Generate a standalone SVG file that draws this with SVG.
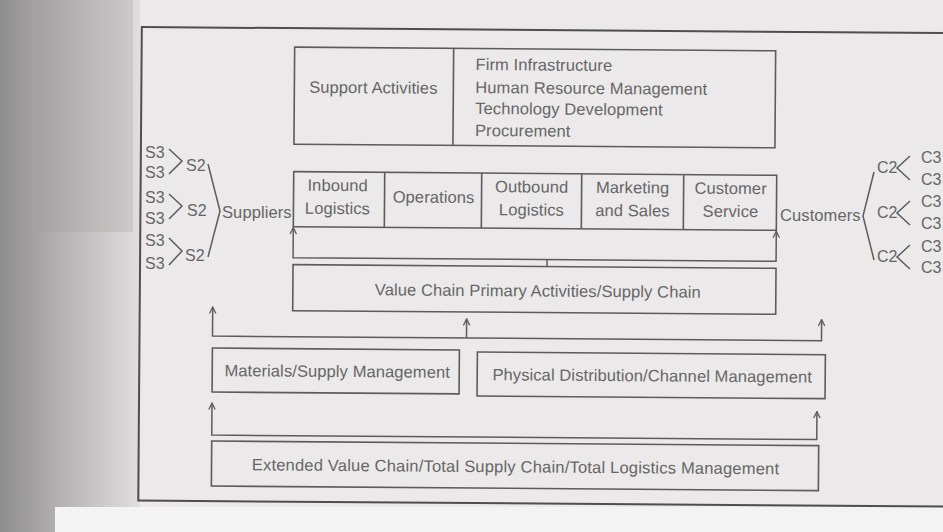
<svg xmlns="http://www.w3.org/2000/svg" width="943" height="532" viewBox="0 0 943 532">
<defs>
<linearGradient id="shade" x1="0" y1="0" x2="1" y2="0">
<stop offset="0" stop-color="#8e8d8d"/>
<stop offset="0.45" stop-color="#b5b3b3"/>
<stop offset="1" stop-color="#e0dede"/>
</linearGradient>
<marker id="arr" viewBox="0 0 10 10" refX="9" refY="5" markerWidth="8" markerHeight="8" markerUnits="userSpaceOnUse" orient="auto-start-reverse">
<path d="M1,1 L9,5 L1,9" fill="none" stroke="#5c5c5c" stroke-width="1.6"/>
</marker>
<style>
.box{fill:none;stroke:#5c5c5c;stroke-width:1.6}
.frame{fill:none;stroke:#4e4e4e;stroke-width:2}
.t{font-family:"Liberation Sans",Arial,Helvetica,sans-serif;font-size:16.5px;letter-spacing:0.1px;fill:#666666}
.m{text-anchor:middle}
.s{font-size:16px;letter-spacing:0}
.ln{fill:none;stroke:#5c5c5c;stroke-width:1.5}
</style>
</defs>
<g id="background">
<rect width="943" height="532" fill="#ebe9e9"/>
<rect x="0" y="0" width="140" height="532" fill="url(#shade)"/>
<rect x="37" y="0" width="96" height="232" fill="#9a9898" opacity="0.25"/>
<rect x="55" y="507" width="888" height="25" fill="#f4f3f3"/>
</g>
<g id="page" transform="rotate(0.43 470 270)">
<rect class="frame" x="140" y="29.5" width="830" height="473.5"/>
<g id="support">
<rect class="box" x="293" y="48.5" width="481" height="97"/>
<line class="box" x1="452" y1="48.5" x2="452" y2="145.5"/>
<text class="t m" x="372" y="94">Support Activities</text>
<text class="t" x="474" y="70">Firm Infrastructure</text>
<text class="t" x="474" y="93">Human Resource Management</text>
<text class="t" x="474" y="114">Technology Development</text>
<text class="t" x="474" y="136">Procurement</text>
</g>
<g id="primary">
<rect class="box" x="293" y="173" width="483" height="55"/>
<line class="box" x1="384" y1="173" x2="384" y2="228"/>
<line class="box" x1="481" y1="173" x2="481" y2="228"/>
<line class="box" x1="581" y1="173" x2="581" y2="228"/>
<line class="box" x1="683" y1="173" x2="683" y2="228"/>
<text class="t m" x="337" y="192">Inbound</text>
<text class="t m" x="337" y="215">Logistics</text>
<text class="t m" x="433" y="203">Operations</text>
<text class="t m" x="531" y="192">Outbound</text>
<text class="t m" x="531" y="215">Logistics</text>
<text class="t m" x="632" y="192">Marketing</text>
<text class="t m" x="632" y="215">and Sales</text>
<text class="t m" x="730" y="192">Customer</text>
<text class="t m" x="730" y="215">Service</text>
</g>
<g id="value-chain">
<rect class="box" x="293" y="266" width="483" height="46"/>
<text class="t m" x="538" y="296">Value Chain Primary Activities/Supply Chain</text>
</g>
<g id="materials">
<rect class="box" x="213" y="350" width="247" height="44"/>
<text class="t m" x="338" y="378">Materials/Supply Management</text>
</g>
<g id="physical">
<rect class="box" x="478" y="352" width="348" height="44"/>
<text class="t m" x="653" y="380">Physical Distribution/Channel Management</text>
</g>
<g id="extended">
<rect class="box" x="213" y="443" width="607" height="45"/>
<text class="t m" x="517" y="472" style="letter-spacing:0.2px">Extended Value Chain/Total Supply Chain/Total Logistics Management</text>
</g>
<g id="connectors">
<path class="ln" d="M293,229 V259 H776 V229" marker-start="url(#arr)" marker-end="url(#arr)"/>
<line class="ln" x1="547" y1="259" x2="547" y2="266"/>
<path class="ln" d="M213,309 V338 H822 V317" marker-start="url(#arr)" marker-end="url(#arr)"/>
<path class="ln" d="M467,338 V319" marker-end="url(#arr)"/>
<path class="ln" d="M213,405 V437 H818 V409" marker-start="url(#arr)" marker-end="url(#arr)"/>
</g>
</g>
<g id="suppliers">
<text class="t s" x="145" y="157.5">S3</text>
<text class="t s" x="145" y="177.5">S3</text>
<text class="t s" x="145" y="202.5">S3</text>
<text class="t s" x="145" y="223.5">S3</text>
<text class="t s" x="145" y="245.5">S3</text>
<text class="t s" x="145" y="268.5">S3</text>
<path class="ln" d="M169,149 L182,161 L169,174 M169,194 L182,206 L169,219 M169,238 L182,251 L169,265"/>
<text class="t s" x="186" y="170.5">S2</text>
<text class="t s" x="187" y="215.5">S2</text>
<text class="t s" x="185" y="260.5">S2</text>
<path class="ln" d="M208,164 L220,211 L208,257"/>
<text class="t" x="222" y="218">Suppliers</text>
</g>
<g id="customers">
<text class="t" x="780" y="221">Customers</text>
<path class="ln" d="M874,172 L863,216 L874,260"/>
<text class="t s" x="877" y="173">C2</text>
<text class="t s" x="877" y="218">C2</text>
<text class="t s" x="877" y="262">C2</text>
<path class="ln" d="M910,156 L897,168 L910,180 M910,201 L897,213 L910,225 M910,245 L897,257 L910,269"/>
<text class="t s" x="921" y="163">C3</text>
<text class="t s" x="921" y="185">C3</text>
<text class="t s" x="921" y="207">C3</text>
<text class="t s" x="921" y="229">C3</text>
<text class="t s" x="921" y="252">C3</text>
<text class="t s" x="921" y="273">C3</text>
</g>
</svg>
